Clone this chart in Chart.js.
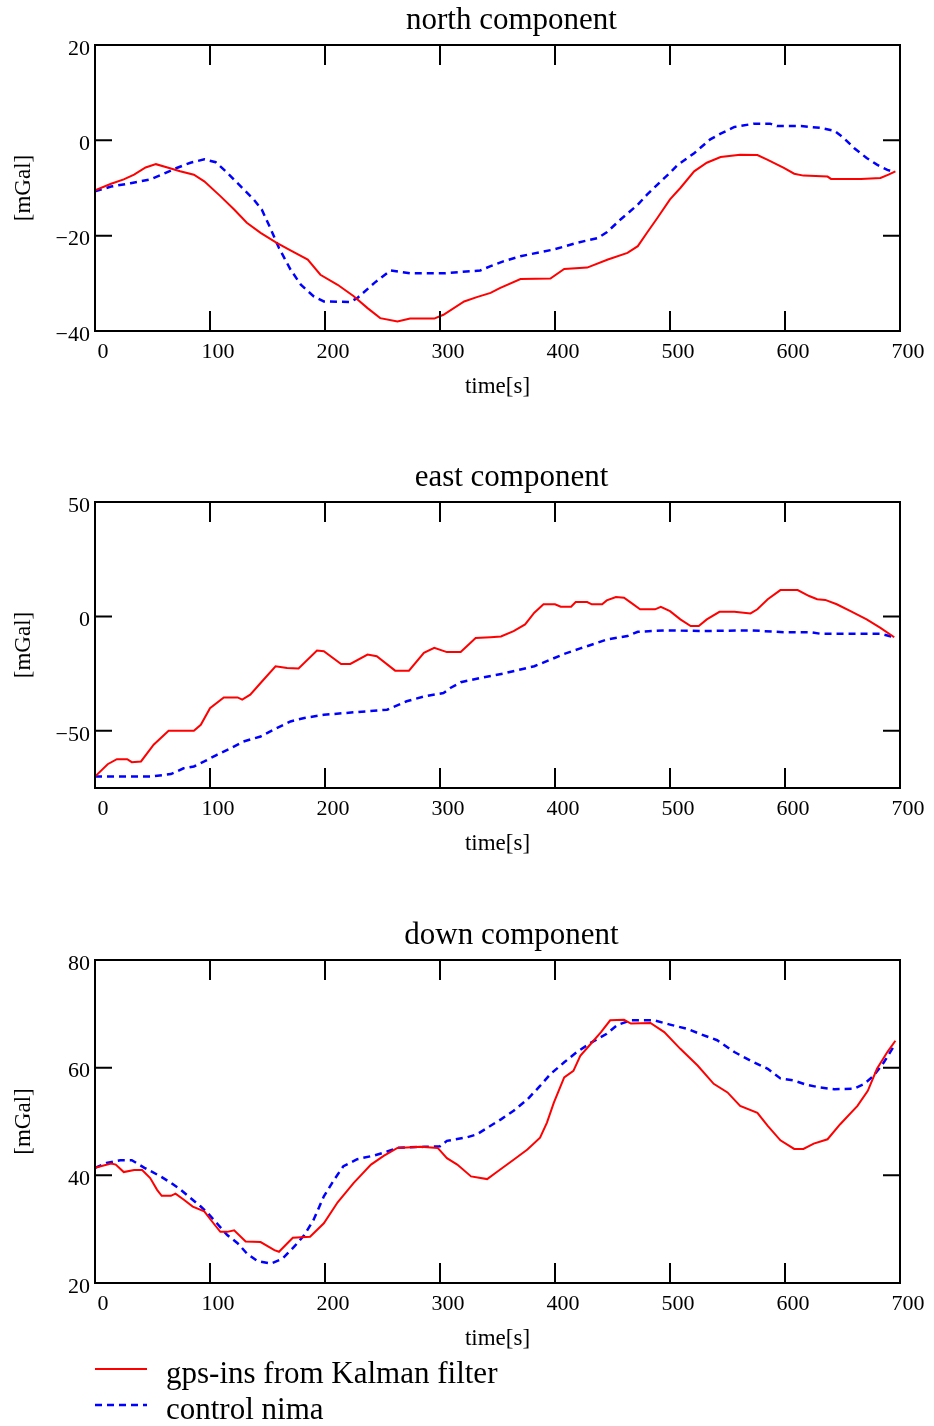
<!DOCTYPE html>
<html>
<head>
<meta charset="utf-8">
<script src="https://cdn.jsdelivr.net/npm/chart.js@4/dist/chart.umd.min.js"></script>
<style>
  body { margin: 0; background: #fff; }
  .panel { position: absolute; left: 0; }
  #legend { position: absolute; left: 95px; top: 1351px; font: 31px 'Liberation Serif', serif; color: #000; }
  #legend .row { display: flex; align-items: center; height: 36px; white-space: nowrap; }
  #legend svg { margin-right: 19px; }
  #legend span { position: relative; top: 4px; }
</style>
</head>
<body>
<canvas id="north" class="panel" style="top:0px" width="934" height="401"></canvas>
<canvas id="east" class="panel" style="top:457px" width="934" height="401"></canvas>
<canvas id="down" class="panel" style="top:914px" width="934" height="439"></canvas>
<div id="legend"></div>
<script>
// time axis, shared by all three components
var timeTicks = [0, 100, 200, 300, 400, 500, 600, 700];

// north component
var northTicks = [-40, -20, 0, 20];
var tNorthKf = [0, 14, 25, 34, 44, 53, 63, 74, 86, 95, 109, 121, 132, 144, 158, 170, 185, 196, 211, 225, 237, 248, 263, 274, 295, 303, 321, 332, 344, 352, 370, 396, 408, 428, 446, 463, 472, 480, 489, 500, 509, 521, 532, 544, 561, 576, 585, 599, 608, 616, 637, 640, 666, 683, 690, 696];
var northKf = [-10.5, -9.1, -8.2, -7.2, -5.7, -5.0, -5.7, -6.5, -7.2, -8.6, -11.7, -14.5, -17.3, -19.4, -21.5, -23.1, -25.0, -28.2, -30.3, -32.7, -35.2, -37.3, -38.0, -37.4, -37.4, -36.6, -33.8, -32.9, -32.0, -31.0, -29.1, -29.0, -27.0, -26.7, -25.0, -23.6, -22.2, -19.4, -16.3, -12.4, -10.0, -6.5, -4.7, -3.5, -3.0, -3.1, -4.1, -5.8, -7.0, -7.4, -7.6, -8.1, -8.1, -7.9, -7.2, -6.5];
var tNorthNima = [0, 14, 31, 48, 58, 71, 83, 95, 105, 115, 124, 131, 138, 145, 153, 160, 170, 179, 190, 199, 222, 228, 243, 257, 274, 303, 335, 344, 355, 370, 399, 419, 437, 445, 457, 472, 480, 492, 500, 506, 521, 535, 544, 556, 573, 587, 593, 614, 631, 643, 651, 660, 671, 680, 689, 693];
var northNima = [-10.7, -9.7, -9.0, -8.2, -7.2, -5.8, -4.7, -4.0, -4.6, -6.8, -9.0, -10.7, -12.4, -14.5, -18.7, -22.6, -27.1, -30.3, -32.7, -33.8, -33.9, -33.1, -29.9, -27.3, -27.9, -27.9, -27.3, -26.4, -25.4, -24.3, -22.9, -21.5, -20.5, -19.3, -16.6, -13.5, -11.4, -8.6, -6.8, -5.3, -2.7, 0.2, 1.4, 2.8, 3.5, 3.5, 3.0, 3.0, 2.6, 2.0, 0.5, -1.6, -3.7, -5.1, -6.2, -6.5];

// east component
var eastTicks = [-50, 0, 50];
var tEastKf = [0, 11, 19, 28, 32, 40, 51, 64, 86, 92, 100, 112, 124, 128, 135, 144, 157, 167, 177, 193, 199, 214, 222, 237, 245, 261, 273, 286, 295, 306, 318, 331, 344, 353, 364, 374, 382, 390, 400, 405, 414, 418, 428, 432, 441, 445, 453, 460, 466, 474, 487, 492, 500, 509, 518, 525, 532, 543, 556, 570, 576, 585, 596, 611, 621, 628, 635, 645, 657, 671, 683, 695];
var eastKf = [-70.0, -64.6, -62.4, -62.4, -63.7, -63.4, -56.1, -50.0, -50.0, -47.4, -40.1, -35.4, -35.4, -36.4, -34.2, -29.1, -21.8, -22.5, -22.8, -14.9, -15.2, -20.8, -20.8, -16.7, -17.4, -23.7, -23.7, -15.9, -13.7, -15.6, -15.6, -9.4, -9.1, -8.8, -6.4, -3.5, 1.6, 5.3, 5.3, 4.2, 4.2, 6.3, 6.3, 5.3, 5.3, 7.0, 8.5, 8.2, 6.0, 3.1, 3.1, 4.2, 2.3, -1.3, -4.2, -4.2, -1.3, 2.0, 2.0, 1.3, 3.1, 7.5, 11.5, 11.5, 8.9, 7.5, 7.2, 5.3, 2.3, -1.3, -5.0, -9.1];
var tEastNima = [0, 25, 48, 66, 77, 86, 95, 106, 118, 129, 144, 158, 170, 182, 199, 228, 254, 271, 286, 303, 309, 318, 335, 355, 370, 382, 396, 408, 422, 434, 445, 463, 472, 498, 527, 570, 599, 622, 631, 657, 683, 695];
var eastNima = [-70.0, -70.0, -70.0, -68.9, -66.4, -65.6, -63.4, -60.5, -57.6, -54.7, -52.5, -48.8, -45.9, -44.4, -43.0, -41.8, -40.8, -37.1, -35.0, -33.5, -31.3, -28.8, -26.9, -25.0, -23.2, -21.8, -18.9, -16.4, -14.0, -12.0, -10.1, -8.6, -6.7, -6.1, -6.4, -6.1, -6.9, -6.9, -7.6, -7.6, -7.6, -9.1];

// down component
var downTicks = [20, 40, 60, 80];
var tDownKf = [0, 14, 18, 25, 34, 41, 48, 54, 58, 66, 70, 77, 85, 95, 103, 109, 115, 121, 131, 144, 156, 160, 172, 187, 199, 211, 225, 240, 251, 263, 283, 298, 306, 315, 327, 341, 350, 364, 376, 387, 393, 399, 408, 416, 422, 431, 440, 448, 460, 466, 483, 495, 509, 524, 538, 550, 561, 576, 585, 596, 608, 616, 625, 637, 648, 663, 672, 680, 689, 696];
var downKf = [41.4, 42.2, 42.0, 40.6, 41.0, 41.0, 39.5, 37.3, 36.2, 36.2, 36.6, 35.5, 34.2, 33.3, 31.1, 29.5, 29.5, 29.8, 27.7, 27.6, 26.1, 25.8, 28.4, 28.6, 31.1, 35.0, 38.6, 42.0, 43.6, 45.1, 45.3, 45.1, 43.2, 42.0, 39.8, 39.3, 40.7, 42.9, 44.8, 47.0, 49.8, 53.5, 58.2, 59.4, 62.2, 64.4, 66.6, 68.8, 68.9, 68.2, 68.3, 66.6, 63.5, 60.4, 57.0, 55.4, 52.9, 51.6, 49.2, 46.5, 44.9, 44.9, 45.9, 46.7, 49.5, 52.9, 55.7, 59.8, 62.9, 65.0];
var tDownNima = [0, 10, 22, 32, 43, 57, 66, 74, 83, 92, 98, 106, 115, 124, 132, 141, 153, 163, 173, 182, 190, 199, 208, 216, 228, 243, 251, 263, 286, 300, 306, 324, 332, 344, 353, 364, 376, 387, 396, 408, 419, 431, 445, 454, 466, 486, 500, 515, 527, 541, 556, 570, 585, 596, 608, 619, 631, 643, 660, 669, 677, 686, 695];
var downNima = [41.4, 42.3, 42.8, 42.8, 41.4, 39.8, 38.6, 37.4, 35.8, 34.2, 33.0, 31.1, 28.9, 27.4, 25.5, 24.1, 23.6, 24.5, 26.7, 28.9, 31.7, 36.1, 39.2, 41.7, 43.0, 43.7, 44.2, 45.1, 45.3, 45.4, 46.4, 47.1, 47.6, 49.2, 50.4, 52.0, 54.1, 56.6, 58.8, 61.0, 62.9, 64.6, 66.3, 67.9, 68.8, 68.8, 68.0, 67.2, 66.2, 65.1, 62.9, 61.3, 59.8, 58.0, 57.6, 56.8, 56.3, 56.0, 56.1, 57.0, 58.5, 61.0, 64.1];

var kfLabel = 'gps-ins from Kalman filter';
var nimaLabel = 'control nima';

Chart.defaults.font.family = "'Liberation Serif', 'Times New Roman', serif";
Chart.defaults.font.size = 22;
Chart.defaults.color = '#000';

function pts(t, v) {
  return t.map(function (x, i) { return { x: x, y: v[i] }; });
}

function fixTicks(values) {
  return function (scale) {
    scale.ticks = values.map(function (v) { return { value: v }; });
  };
}

// negative values get a typographic minus
function minusLabel(v) {
  return v < 0 ? '\u2212' + Math.abs(v) : String(v);
}

// boxed frame with inward ticks on all four sides, plus the panel heading
var framePlugin = {
  id: 'frame',
  afterDatasetsDraw: function (chart, args, opts) {
    var ctx = chart.ctx, a = chart.chartArea;
    var x = chart.scales.x, y = chart.scales.y;
    ctx.save();
    ctx.strokeStyle = '#000';
    ctx.lineWidth = 2;
    ctx.beginPath();
    x.ticks.forEach(function (t) {
      var px = x.getPixelForValue(t.value);
      ctx.moveTo(px, a.bottom); ctx.lineTo(px, a.bottom - 20);
      ctx.moveTo(px, a.top); ctx.lineTo(px, a.top + 20);
    });
    y.ticks.forEach(function (t) {
      var py = y.getPixelForValue(t.value);
      ctx.moveTo(a.left, py); ctx.lineTo(a.left + 17, py);
      ctx.moveTo(a.right, py); ctx.lineTo(a.right - 17, py);
    });
    ctx.stroke();
    ctx.strokeRect(a.left, a.top, a.right - a.left, a.bottom - a.top);
    ctx.fillStyle = '#000';
    ctx.font = "31px 'Liberation Serif', serif";
    ctx.textAlign = 'center';
    ctx.textBaseline = 'middle';
    ctx.fillText(opts.title, (a.left + a.right) / 2 + 14, a.top - 24);
    ctx.restore();
  }
};

function makePanel(id, title, top, kf, nima, yMin, yMax, yTicks) {
  return new Chart(document.getElementById(id), {
    type: 'line',
    data: {
      datasets: [{
        label: kfLabel,
        data: kf,
        borderColor: '#ff0000',
        borderWidth: 2,
        pointRadius: 0
      }, {
        label: nimaLabel,
        data: nima,
        borderColor: '#0000ff',
        borderWidth: 2.5,
        borderDash: [7, 5],
        pointRadius: 0
      }]
    },
    options: {
      responsive: false,
      animation: false,
      layout: { padding: { top: top, right: 34, left: 0, bottom: 0 } },
      plugins: {
        legend: { display: false },
        tooltip: { enabled: false },
        frame: { title: title }
      },
      scales: {
        x: {
          type: 'linear',
          min: 0,
          max: 700,
          afterBuildTicks: fixTicks(timeTicks),
          afterFit: function (s) { s.height = 70; },
          grid: { display: false, drawTicks: false },
          border: { display: false },
          ticks: { padding: 8, labelOffset: 8, autoSkip: false, maxRotation: 0 },
          title: { display: true, text: 'time[s]', font: { size: 23 }, padding: { top: 0, bottom: 0 } }
        },
        y: {
          min: yMin,
          max: yMax,
          afterBuildTicks: fixTicks(yTicks),
          afterFit: function (s) { s.width = 95; },
          grid: { display: false, drawTicks: false },
          border: { display: false },
          ticks: { padding: 5, labelOffset: 4, autoSkip: false, callback: minusLabel },
          title: { display: true, text: '[mGal]', font: { size: 23 }, padding: { top: 10, bottom: 0 } }
        }
      }
    },
    plugins: [framePlugin]
  });
}

makePanel('north', 'north component', 45, pts(tNorthKf, northKf), pts(tNorthNima, northNima), -40, 20, northTicks);
makePanel('east', 'east component', 45, pts(tEastKf, eastKf), pts(tEastNima, eastNima), -75, 50, eastTicks);
var downChart = makePanel('down', 'down component', 46, pts(tDownKf, downKf), pts(tDownNima, downNima), 20, 80, downTicks);

// legend rows built from the datasets of the last panel
var legend = document.getElementById('legend');
downChart.data.datasets.forEach(function (ds) {
  var row = document.createElement('div');
  row.className = 'row';
  var dash = ds.borderDash ? ' stroke-dasharray="' + ds.borderDash.join(' ') + '"' : '';
  row.innerHTML = '<svg width="52" height="6"><line x1="0" y1="3" x2="52" y2="3" stroke="' + ds.borderColor +
    '" stroke-width="' + ds.borderWidth + '"' + dash + '/></svg><span>' + ds.label + '</span>';
  legend.appendChild(row);
});
</script>
</body>
</html>
